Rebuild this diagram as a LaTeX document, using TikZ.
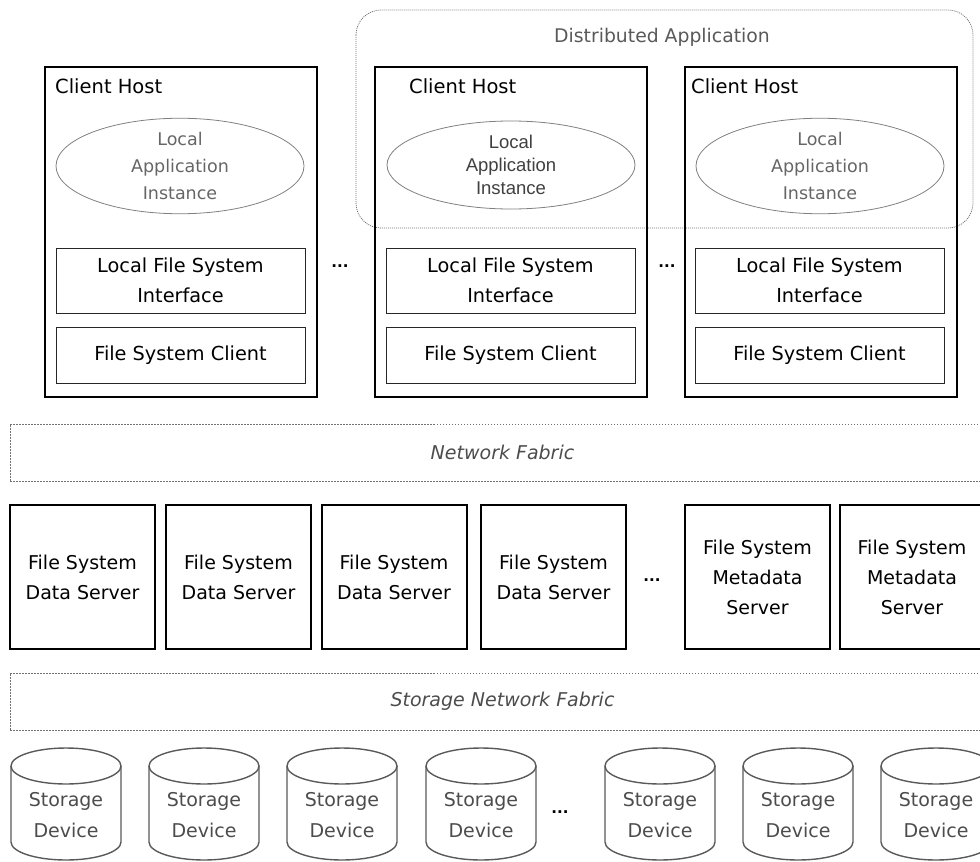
\documentclass[tikz,border=0pt]{standalone}
\usepackage{fontspec}
\setmainfont{DejaVu Sans}
\newfontfamily\arialfont{Liberation Sans}
\usetikzlibrary{shapes.geometric}
\begin{document}
\begin{tikzpicture}[x=1pt,y=-1pt,
  host/.style={draw=black, line width=2pt, minimum width=272pt, minimum height=330pt, inner sep=0pt},
  hostlabel/.style={anchor=west, font=\fontsize{19.5}{22}\selectfont, inner sep=0pt},
  layerbox/.style={draw=black!85, line width=1pt, minimum width=249pt, align=center, font=\fontsize{19.3}{30}\selectfont, inner sep=0pt},
  app/.style={ellipse, draw=black!50, line width=0.8pt, minimum width=248pt, minimum height=88pt, align=center, text=black!60, font=\fontsize{17.5}{27}\selectfont, inner sep=0pt},
  server/.style={draw, line width=2pt, minimum width=145pt, minimum height=144pt, align=center, font=\fontsize{19}{30}\selectfont, inner sep=0pt},
  fabric/.style={draw=black!55, line width=0.8pt, dash pattern=on 1.5pt off 1.5pt, minimum width=985pt, minimum height=57pt, font=\itshape\fontsize{19}{22}\selectfont, text=black!70, inner sep=0pt},
  disk/.style={draw=black!65, line width=1.4pt},
  disklabel/.style={align=center, text=black!70, font=\fontsize{19}{31}\selectfont, inner sep=0pt},
  more/.style={font=\bfseries\fontsize{15}{15}\selectfont, inner sep=0pt}
]
\useasboundingbox (0,0) rectangle (980,862);
\clip (0,0) rectangle (980,862);

% distributed application frame
\draw[draw=black!55, line width=0.8pt, dash pattern=on 1pt off 1pt, rounded corners=25pt]
  (356,10) rectangle (973,228);
\node[text=black!65, font=\fontsize{18.8}{22}\selectfont] (distapp) at (662,37) {Distributed Application};

% client hosts
\node[host] (host1) at (181,232) {};
\node[host] (host2) at (511,232) {};
\node[host] (host3) at (821,232) {};
\node[hostlabel] (hl1) at (55,86) {Client Host};
\node[hostlabel] (hl2) at (409,86) {Client Host};
\node[hostlabel] (hl3) at (691,86) {Client Host};

\node[app] (app1) at (180,166) {Local\\Application\\Instance};
\node[app, text=black!75, font=\arialfont\fontsize{18.5}{23}\selectfont] (app2) at (511,165) {Local\\Application\\Instance};
\node[app] (app3) at (820,166) {Local\\Application\\Instance};

\foreach \i/\cx in {1/180.5, 2/510.5, 3/819.5} {
  \node[layerbox, minimum height=65pt] (lfs\i) at (\cx,280.5) {Local File System\\Interface};
  \node[layerbox, minimum height=56pt] (fsc\i) at (\cx,355) {File System Client};
}
\node[more] (dotsA) at (340,266) {...};
\node[more] (dotsB) at (667,266) {...};

% network fabric
\node[fabric] (net) at (502.5,452.5) {Network Fabric};

% servers
\foreach \i/\cx in {1/82.5, 2/238.5, 3/394, 4/553.5} {
  \node[server] (ds\i) at (\cx,577) {File System\\Data Server};
}
\node[server] (md1) at (757.5,577) {File System\\Metadata\\Server};
\node[server] (md2) at (912,577) {File System\\Metadata\\Server};
\node[more] (dotsC) at (652,580) {...};

% storage network fabric
\node[fabric] (snet) at (502.5,701.5) {Storage Network Fabric};

% storage devices
\foreach \i/\cx in {1/66, 2/204, 3/342, 4/481, 5/660, 6/798, 7/936} {
  \draw[disk] (\cx,766) ellipse [x radius=55pt, y radius=18pt];
  \draw[disk] (\cx-55,766) -- (\cx-55,842)
    arc[start angle=180, end angle=360, x radius=55pt, y radius=18pt] -- (\cx+55,766);
  \node[disklabel] (dev\i) at (\cx,815) {Storage\\Device};
}
\node[more] (dotsD) at (560,812) {...};
\end{tikzpicture}
\end{document}
